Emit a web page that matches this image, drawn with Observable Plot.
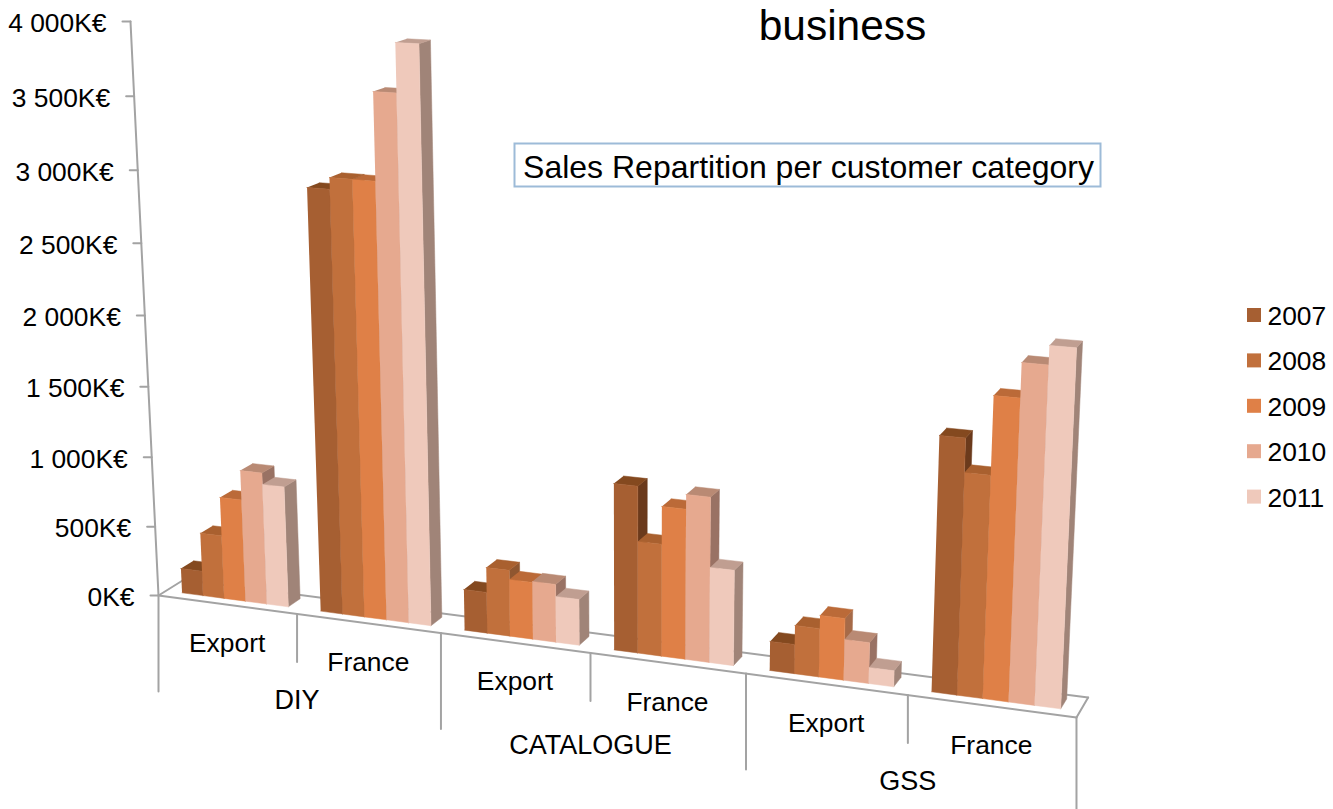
<!DOCTYPE html>
<html><head><meta charset="utf-8">
<script src="https://cdn.jsdelivr.net/npm/d3@7"></script>
<script src="https://cdn.jsdelivr.net/npm/@observablehq/plot@0.6"></script>
<style>html,body{margin:0;padding:0;background:#fff}svg{display:block}</style>
</head><body><div id="chart"></div>
<script>
const years = ["2007","2008","2009","2010","2011"];
const categories = ["DIY","CATALOGUE","GSS"];
const subcategories = ["Export","France","Export","France","Export","France"];
const v2007 = [178,2946,287,1142,198,1684];
const v2008 = [454,3024,461,767,327,1462];
const v2009 = [730,3022,397,1023,416,1971];
const v2010 = [940,3613,403,1122,275,2195];
const v2011 = [859,3941,319,649,108,2317];
const series = [v2007,v2008,v2009,v2010,v2011];
const yTicks = [0,500,1000,1500,2000,2500,3000,3500,4000];
const tickText = ["0K€","500K€","1 000K€","1 500K€","2 000K€","2 500K€","3 000K€","3 500K€","4 000K€"];
const frontColors = ["#a65f32","#c1703c","#df8047","#e6a98f","#efc9bb"];
const topColors = ["#84491f","#a9602f","#bb6a38","#b98a74","#c09e91"];
const sideColors = ["#6b3a1c","#8f5630","#a66a48","#997264","#a08478"];

// perspective of the 3D chart box: u = category position, d = depth, v = value
function project(u, d, v) {
  const w = 1 - 0.01852*u + 0.0165*d - 1.19e-5*v;
  return [(158 + 133.07*u + 28.3*d - 0.00855*v + 3.2e-4*u*v)/w,
          (595 + 7.05*u - 6.2*d - 0.14375*v)/w];
}
const P = (u,d,v,dx=0,dy=0) => { const p = project(u,d,v); return {x:p[0]+dx, y:p[1]+dy}; };

const BAR0 = 0.117, BARW = 0.154, D0 = 0.3, D1 = 0.8;
const faces = [];
subcategories.forEach((_,g) => years.forEach((yr,s) => {
  const v = series[s][g], a = g+BAR0+s*BARW, b = a+BARW, id = `${g}-${s}`;
  const add = (kind,color,pts) => pts.forEach(p => faces.push({...p,id:id+kind,color}));
  add("side",sideColors[s],[P(b,D0,0),P(b,D1,0),P(b,D1,v),P(b,D0,v)]);
  add("top",topColors[s],[P(a,D0,v),P(b,D0,v),P(b,D1,v),P(a,D1,v)]);
  add("front",frontColors[s],[P(a,D0,0),P(b,D0,0),P(b,D0,v),P(a,D0,v)]);
}));

const axisSegs = [];
const seg = (id,...pts) => pts.forEach(p => axisSegs.push({...p,id}));
seg("left",P(0,0,0),P(0,0,4000));
seg("front",P(0,0,0),P(6,0,0));
seg("back",P(0,1,0),P(6,1,0));
seg("sideL",P(0,0,0),P(0,1,0));
seg("sideR",P(6,0,0),P(6,1,0));
yTicks.forEach(t => seg("t"+t,P(0,0,t),P(0,0,t,-8,0)));
d3.range(0,7).forEach(u => seg("sep"+u,P(u,0,0),P(u,0,0,0,u%2?48:96)));

const catDy = [86,92,86];
const font = "Liberation Sans, Arial, sans-serif";
const txt = (data,o) => Plot.text(data,{x:"x",y:"y",text:"t",fontFamily:font,fontSize:26.4,fill:"#000",lineAnchor:"middle",...o});

const chart = Plot.plot({
  width:1333,height:809,margin:0,
  x:{domain:[0,1333],range:[0,1333],axis:null},
  y:{domain:[0,809],range:[0,809],axis:null},
  color:{type:"identity"},
  marks:[
    Plot.line(axisSegs,{x:"x",y:"y",z:"id",stroke:"#a3a3a3",strokeWidth:2}),
    Plot.line(faces,{x:"x",y:"y",z:"id",fill:"color",stroke:"color",strokeWidth:0.5}),
    txt(yTicks.map((t,i)=>({...P(0,0,t,-24,2),t:tickText[i]})),{textAnchor:"end"}),
    txt(subcategories.map((t,i)=>({...P(i+0.5,0,0,0,39),t}))),
    txt(categories.map((t,i)=>({...P(2*i+1,0,0,0,catDy[i]),t})),{fontSize:27}),
    Plot.rect(years,{x1:()=>1247,x2:()=>1261,y1:(_,i)=>308+i*45.4,y2:(_,i)=>322+i*45.4,fill:(_,i)=>frontColors[i]}),
    txt(years.map((t,i)=>({x:1267,y:316+i*45.5,t})),{textAnchor:"start"}),
    txt([{x:842,y:26,t:"business"}],{fontSize:42.5}),
    Plot.rect([0],{x1:()=>514.5,x2:()=>1100.5,y1:()=>143.5,y2:()=>186.5,fill:"#fff",stroke:"#9dbbd8",strokeWidth:2}),
    txt([{x:808,y:167,t:"Sales Repartition per customer category"}],{fontSize:32})
  ]
});
document.getElementById("chart").append(chart);
</script></body></html>
